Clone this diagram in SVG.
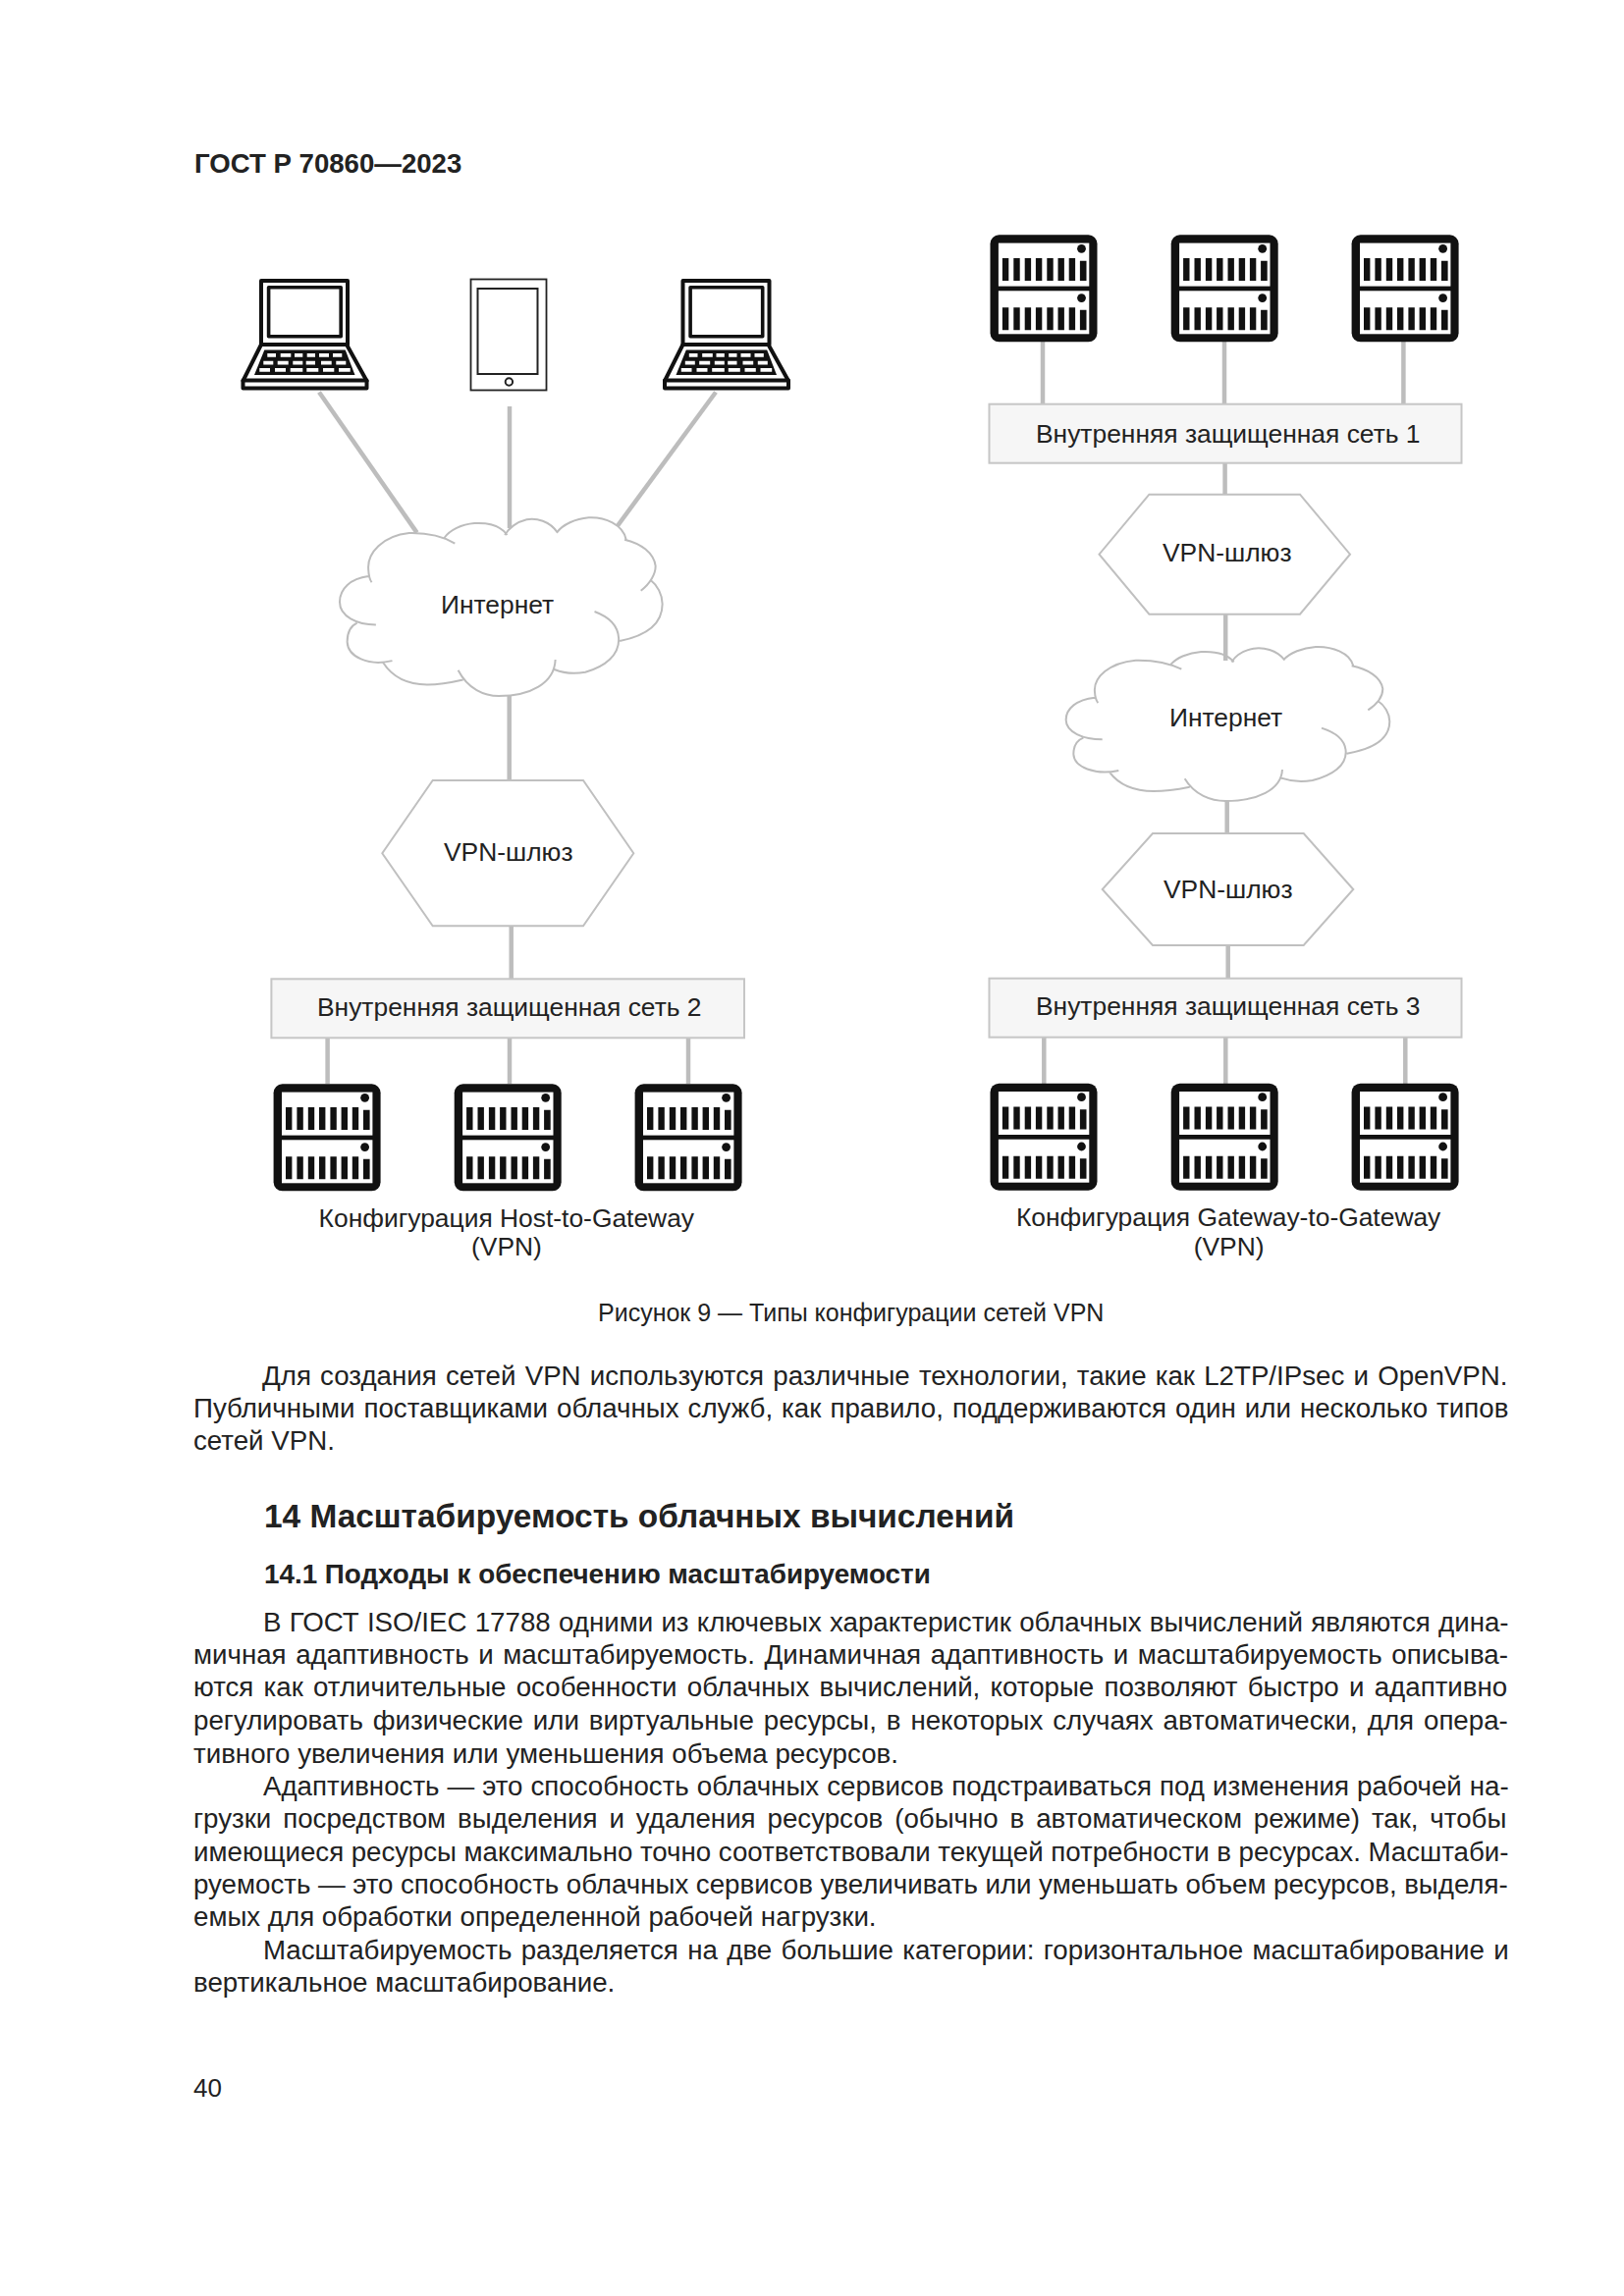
<svg xmlns="http://www.w3.org/2000/svg" xmlns:xlink="http://www.w3.org/1999/xlink" width="1654" height="2339" viewBox="0 0 1654 2339">
<style>
text{font-family:"Liberation Sans",Arial,sans-serif;fill:#222}
.b{font-size:27.7px}
.l{font-size:26.4px}
.c{font-size:25px}
.bold{font-weight:700}
.conn line{stroke:#bdbdbd;stroke-width:4.5;fill:none}
.hex{fill:#fff;stroke:#c0c0c0;stroke-width:2}
.box{fill:#f6f6f6;stroke:#c6c6c6;stroke-width:2}
.cloud{fill:none;stroke:#bcbcbc;stroke-width:2;vector-effect:non-scaling-stroke}
.ln{fill:#fff;stroke:#111;stroke-linejoin:round}
</style>
<defs>
<g id="srv">
<rect width="109" height="109" rx="9" fill="#111"/>
<rect x="8.4" y="8.3" width="92.4" height="44" fill="#fff"/>
<rect x="8.4" y="57" width="92.4" height="44" fill="#fff"/>
<circle cx="93" cy="14" r="4.4" fill="#111"/>
<circle cx="93" cy="64.3" r="4.4" fill="#111"/>
<path fill="#111" d="M12.4 23.7h6.4v23h-6.4zM23.8 23.7h6.4v23h-6.4zM35.2 23.7h6.4v23h-6.4zM46.4 23.7h6.4v23h-6.4zM57.8 23.7h6.4v23h-6.4zM69 23.7h6.4v23h-6.4zM80.2 23.7h6.4v23h-6.4zM91.4 26.5h6.6v20.2h-6.6zM12.4 74h6.4v23h-6.4zM23.8 74h6.4v23h-6.4zM35.2 74h6.4v23h-6.4zM46.4 74h6.4v23h-6.4zM57.8 74h6.4v23h-6.4zM69 74h6.4v23h-6.4zM80.2 74h6.4v23h-6.4zM91.4 76.5h6.6v20.5h-6.6z"/>
</g>
<g id="laptop">
<path class="ln" stroke-width="4" d="M266 351V286h88V351z"/>
<rect class="ln" stroke-width="3.6" x="273.6" y="292.8" width="73.6" height="50"/>
<path class="ln" stroke-width="4" d="M266 351H353L373.5 388H247.5z"/>
<rect class="ln" stroke-width="4" x="247.5" y="387.5" width="126" height="8"/>
<path fill="#111" d="M269.3 356.5H351.7L361.5 382H259z"/>
<path fill="#fff" d="M272.3 360h8.7v3.7h-8.7zM285.7 360h10.6v3.7h-10.6zM300 360h8.3v3.7h-8.3zM312.7 360h8.3v3.7h-8.3zM325 360h10v3.7h-10zM339 360h9.3v3.7h-9.3zM268.3 367.7h10v3.7h-10zM282.7 367.7h11v3.7h-11zM298.3 367.7h10v3.7h-10zM311.7 367.7h9.3v3.7h-9.3zM327 367.7h10.7v3.7h-10.7zM342.3 367.7h10v3.7h-10zM264.3 375h10.7v3.7h-10.7zM280 375h11v3.7h-11zM295.7 375h12.6v3.7h-12.6zM312.3 375h12v3.7h-12zM329 375h11.3v3.7h-11.3zM345 375h11.7v3.7h-11.7z"/>
</g>
<path id="cloudshape" class="cloud" d="M165 212C110 218 77 245 77 280C77 318 130 340 188 340M130 335C105 345 100 365 100 385C102 425 165 450 238 435M210 440C240 480 290 498 345 498C390 498 430 490 455 485M440 460C470 510 520 528 565 528C660 528 735 495 738 432M735 458C770 470 800 470 830 465C890 450 935 420 932 375C930 345 905 320 858 305M935 383C1010 370 1066 340 1066 285C1066 260 1050 235 1030 222M1000 250C1030 230 1045 205 1045 185C1040 150 1000 125 950 115M955 115C945 75 890 55 840 57C800 60 760 75 742 97M745 97C720 65 680 58 650 62C620 68 595 85 583 103M590 103C570 78 530 70 490 72C450 75 415 90 398 110M430 125C390 105 340 97 290 98C210 105 160 150 165 195C166 212 170 222 175 228"/>
</defs>
<rect width="1654" height="2339" fill="#fff"/>

<g id="connectors" class="conn">
<line x1="325" y1="399.5" x2="424.6" y2="542.6"/>
<line x1="519" y1="414" x2="519" y2="538"/>
<line x1="729" y1="399.5" x2="628.7" y2="536"/>
<line x1="518.7" y1="709" x2="518.7" y2="795"/>
<line x1="520.7" y1="943" x2="520.7" y2="997"/>
<line x1="333.6" y1="1057" x2="333.6" y2="1104"/>
<line x1="519" y1="1057" x2="519" y2="1104"/>
<line x1="701" y1="1057" x2="701" y2="1104"/>
<line x1="1062" y1="348" x2="1062" y2="412"/>
<line x1="1247" y1="348" x2="1247" y2="412"/>
<line x1="1429.4" y1="348" x2="1429.4" y2="412"/>
<line x1="1247.6" y1="472" x2="1247.6" y2="504"/>
<line x1="1248.2" y1="626" x2="1248.2" y2="673"/>
<line x1="1249.7" y1="816" x2="1249.7" y2="849"/>
<line x1="1250.7" y1="963" x2="1250.7" y2="997"/>
<line x1="1063.3" y1="1057" x2="1063.3" y2="1104"/>
<line x1="1248.3" y1="1057" x2="1248.3" y2="1104"/>
<line x1="1431.3" y1="1057" x2="1431.3" y2="1104"/>
</g>

<g id="laptop-1"><use href="#laptop"/></g>
<g id="tablet">
<rect x="479.5" y="284.5" width="77" height="113" fill="#fff" stroke="#222" stroke-width="1.8"/>
<rect x="486.5" y="294" width="61" height="87" fill="#fff" stroke="#222" stroke-width="2"/>
<circle cx="518.4" cy="389" r="3.7" fill="#fff" stroke="#222" stroke-width="2"/>
</g>
<g id="laptop-2"><use href="#laptop" x="429.5"/></g>

<g id="cloud-1"><use href="#cloudshape" transform="translate(320.4 505.3) scale(.3323 .3858)"/><text class="l" x="449" y="624.5">Интернет</text></g>
<g id="gateway-left"><polygon class="hex" points="440.7,795 594,795 645.3,869.3 594,943.3 440.7,943.3 389.3,869.3"/><text class="l" x="452" y="876.7">VPN-шлюз</text></g>
<g id="net-2"><rect class="box" x="276.4" y="997.3" width="481.6" height="60"/><text class="l" x="323" y="1035">Внутренняя защищенная сеть 2</text></g>
<g id="srv-l1"><use href="#srv" x="278.6" y="1104.3"/></g>
<g id="srv-l2"><use href="#srv" x="462.7" y="1104.3"/></g>
<g id="srv-l3"><use href="#srv" x="646.6" y="1104.3"/></g>
<text class="l" x="324.6" y="1250">Конфигурация Host-to-Gateway</text>
<text class="l" x="480" y="1279.3">(VPN)</text>

<g id="srv-r1"><use href="#srv" x="1008.5" y="239.3"/></g>
<g id="srv-r2"><use href="#srv" x="1192.7" y="239.3"/></g>
<g id="srv-r3"><use href="#srv" x="1376.6" y="239.3"/></g>
<g id="net-1"><rect class="box" x="1007.5" y="411.7" width="481" height="60"/><text class="l" x="1055" y="450.7">Внутренняя защищенная сеть 1</text></g>
<g id="gateway-r1"><polygon class="hex" points="1170.4,503.7 1324,503.7 1375,564.7 1324,625.7 1170.4,625.7 1119.5,564.7"/><text class="l" x="1184" y="572">VPN-шлюз</text></g>
<g id="cloud-2"><use href="#cloudshape" transform="translate(1060 640) scale(.3333)"/><text class="l" x="1191" y="740">Интернет</text></g>
<g id="gateway-r2"><polygon class="hex" points="1174,849 1327.7,849 1378.3,906 1327.7,963 1174,963 1122.7,906"/><text class="l" x="1185" y="915">VPN-шлюз</text></g>
<g id="net-3"><rect class="box" x="1007.5" y="996.7" width="481" height="60"/><text class="l" x="1055" y="1034.3">Внутренняя защищенная сеть 3</text></g>
<g id="srv-r4"><use href="#srv" x="1008.5" y="1103.7"/></g>
<g id="srv-r5"><use href="#srv" x="1192.7" y="1103.7"/></g>
<g id="srv-r6"><use href="#srv" x="1376.6" y="1103.7"/></g>
<text class="l" x="1035" y="1249.3">Конфигурация Gateway-to-Gateway</text>
<text class="l" x="1215.7" y="1279.3">(VPN)</text>

<g id="page-text">
<text class="bold" font-size="27.6" x="198" y="176.4">ГОСТ Р 70860—2023</text>
<text class="c" x="609" y="1346">Рисунок 9 — Типы конфигурации сетей VPN</text>
<text class="b" x="267" y="1410.7" word-spacing="1.5">Для создания сетей VPN используются различные технологии, такие как L2TP/IPsec и OpenVPN.</text>
<text class="b" x="197" y="1444" word-spacing="1.35">Публичными поставщиками облачных служб, как правило, поддерживаются один или несколько типов</text>
<text class="b" x="197" y="1476.7">сетей VPN.</text>
<text class="bold" font-size="33.4" x="269" y="1555.7">14 Масштабируемость облачных вычислений</text>
<text class="bold" font-size="27.8" x="269" y="1613.3">14.1 Подходы к обеспечению масштабируемости</text>
<text class="b" x="268" y="1661.5" word-spacing=".55">В ГОСТ ISO/IEC 17788 одними из ключевых характеристик облачных вычислений являются дина-</text>
<text class="b" x="197" y="1694.8" word-spacing="1.9">мичная адаптивность и масштабируемость. Динамичная адаптивность и масштабируемость описыва-</text>
<text class="b" x="197" y="1728.3" word-spacing="2.55">ются как отличительные особенности облачных вычислений, которые позволяют быстро и адаптивно</text>
<text class="b" x="197" y="1762" word-spacing="2.25">регулировать физические или виртуальные ресурсы, в некоторых случаях автоматически, для опера-</text>
<text class="b" x="197" y="1795.5">тивного увеличения или уменьшения объема ресурсов.</text>
<text class="b" x="268" y="1828.8" word-spacing=".3">Адаптивность — это способность облачных сервисов подстраиваться под изменения рабочей на-</text>
<text class="b" x="197" y="1862" word-spacing="4.2">грузки посредством выделения и удаления ресурсов (обычно в автоматическом режиме) так, чтобы</text>
<text class="b" x="197" y="1895.7" word-spacing="-.15">имеющиеся ресурсы максимально точно соответствовали текущей потребности в ресурсах. Масштаби-</text>
<text class="b" x="197" y="1928.8" word-spacing="-.15">руемость — это способность облачных сервисов увеличивать или уменьшать объем ресурсов, выделя-</text>
<text class="b" x="197" y="1962">емых для обработки определенной рабочей нагрузки.</text>
<text class="b" x="268" y="1995.7" word-spacing="1.7">Масштабируемость разделяется на две большие категории: горизонтальное масштабирование и</text>
<text class="b" x="197" y="2028.6">вертикальное масштабирование.</text>
<text x="197" y="2135.7" font-size="26">40</text>
</g>
</svg>
